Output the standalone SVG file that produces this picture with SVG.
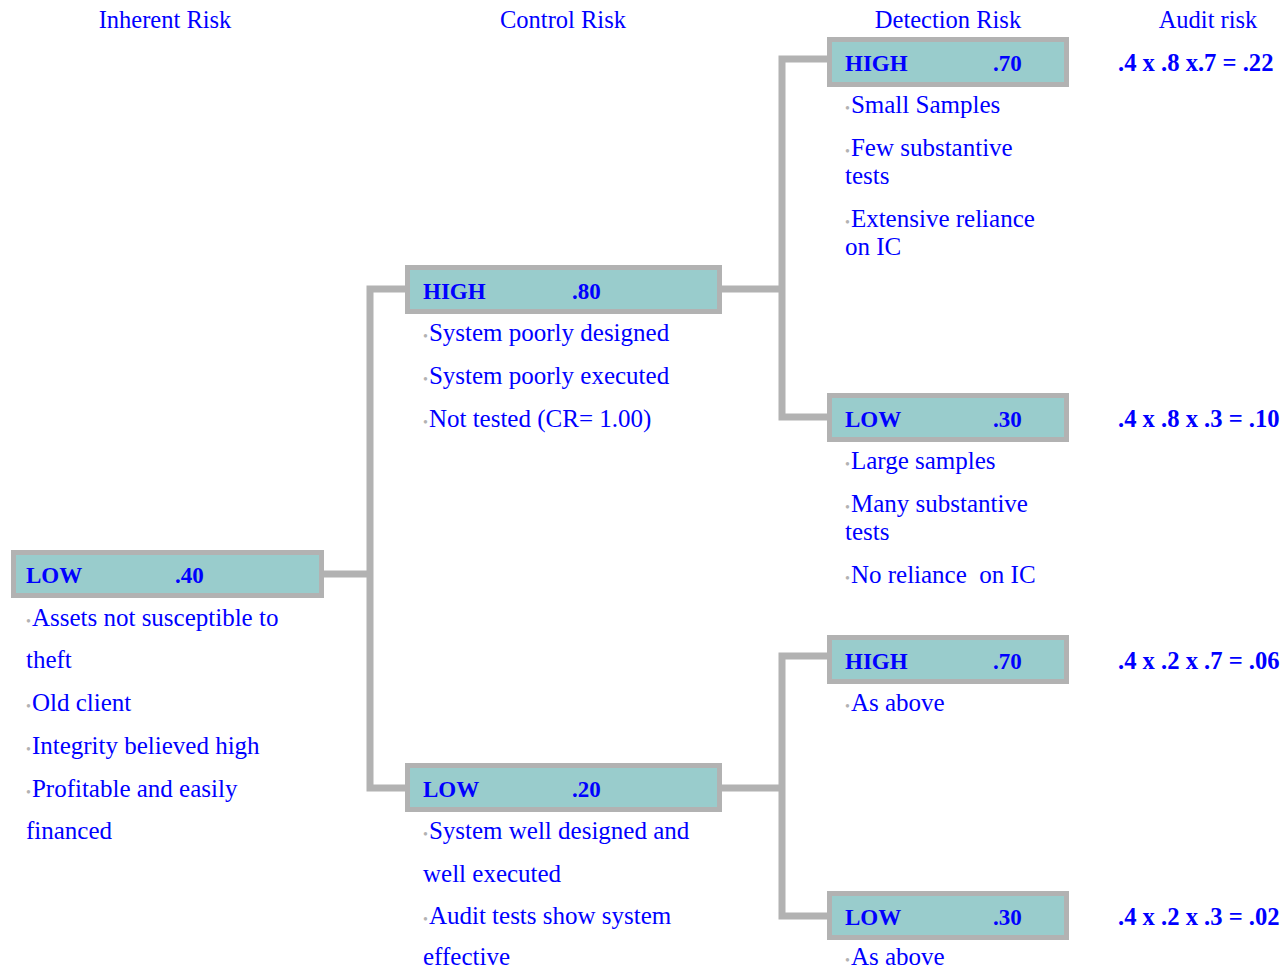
<svg xmlns="http://www.w3.org/2000/svg" width="1284" height="969" viewBox="0 0 1284 969">
<style>
.hd{font-family:"Liberation Serif","Times New Roman",serif;font-size:24.5px;fill:#0000FF;text-anchor:middle}
.bx{fill:#99CCCC;stroke:#B2B2B2;stroke-width:5}
.lb{font-family:"Liberation Serif","Times New Roman",serif;font-size:23px;font-weight:bold;fill:#0000FF}
.tx{font-family:"Liberation Serif","Times New Roman",serif;font-size:25px;fill:#0000FF}
.bu{fill:#B2B2B2;font-size:14px}
.ar{font-family:"Liberation Serif","Times New Roman",serif;font-size:24.6px;font-weight:bold;fill:#0000FF}
.cn{fill:none;stroke:#B2B2B2;stroke-width:7}
</style>
<rect width="1284" height="969" fill="#FFFFFF"/>
<g id="headers">
<text class="hd" x="165" y="28">Inherent Risk</text>
<text class="hd" x="563" y="28">Control Risk</text>
<text class="hd" x="948" y="28">Detection Risk</text>
<text class="hd" x="1208" y="28">Audit risk</text>
</g>
<g id="connectors">
<path class="cn" d="M324 574 H370 M405 289 H370 V788 H405"/>
<path class="cn" d="M722 289 H782 M827 59 H782 V417 H827"/>
<path class="cn" d="M722 788 H782 M827 656 H782 V916 H827"/>
</g>
<g id="ir-low">
<rect class="bx" x="13.5" y="552.5" width="308" height="43"/>
<text class="lb" x="26" y="583">LOW</text>
<text class="lb" x="175" y="583">.40</text>
<text class="tx" x="26" y="626"><tspan class="bu">•</tspan><tspan dx="1">Assets not susceptible to</tspan></text>
<text class="tx" x="26" y="668">theft</text>
<text class="tx" x="26" y="711"><tspan class="bu">•</tspan><tspan dx="1">Old client</tspan></text>
<text class="tx" x="26" y="754"><tspan class="bu">•</tspan><tspan dx="1">Integrity believed high</tspan></text>
<text class="tx" x="26" y="797"><tspan class="bu">•</tspan><tspan dx="1">Profitable and easily</tspan></text>
<text class="tx" x="26" y="839">financed</text>
</g>
<g id="cr-high">
<rect class="bx" x="407.5" y="267.5" width="312" height="44"/>
<text class="lb" x="423" y="299">HIGH</text>
<text class="lb" x="572" y="299">.80</text>
<text class="tx" x="423" y="341"><tspan class="bu">•</tspan><tspan dx="1">System poorly designed</tspan></text>
<text class="tx" x="423" y="384"><tspan class="bu">•</tspan><tspan dx="1">System poorly executed</tspan></text>
<text class="tx" x="423" y="427"><tspan class="bu">•</tspan><tspan dx="1">Not tested (CR= 1.00)</tspan></text>
</g>
<g id="cr-low">
<rect class="bx" x="407.5" y="765.5" width="312" height="44"/>
<text class="lb" x="423" y="797">LOW</text>
<text class="lb" x="572" y="797">.20</text>
<text class="tx" x="423" y="839"><tspan class="bu">•</tspan><tspan dx="1">System well designed and</tspan></text>
<text class="tx" x="423" y="882">well executed</text>
<text class="tx" x="423" y="924"><tspan class="bu">•</tspan><tspan dx="1">Audit tests show system</tspan></text>
<text class="tx" x="423" y="965">effective</text>
</g>
<g id="dr-high-1">
<rect class="bx" x="829.5" y="39.5" width="237" height="45"/>
<text class="lb" x="845" y="71">HIGH</text>
<text class="lb" x="993" y="71">.70</text>
<text class="tx" x="845" y="113"><tspan class="bu">•</tspan><tspan dx="1">Small Samples</tspan></text>
<text class="tx" x="845" y="156"><tspan class="bu">•</tspan><tspan dx="1">Few substantive</tspan></text>
<text class="tx" x="845" y="184">tests</text>
<text class="tx" x="845" y="227"><tspan class="bu">•</tspan><tspan dx="1">Extensive reliance</tspan></text>
<text class="tx" x="845" y="255">on IC</text>
</g>
<g id="dr-low-1">
<rect class="bx" x="829.5" y="395.5" width="237" height="44"/>
<text class="lb" x="845" y="427">LOW</text>
<text class="lb" x="993" y="427">.30</text>
<text class="tx" x="845" y="469"><tspan class="bu">•</tspan><tspan dx="1">Large samples</tspan></text>
<text class="tx" x="845" y="512"><tspan class="bu">•</tspan><tspan dx="1">Many substantive</tspan></text>
<text class="tx" x="845" y="540">tests</text>
<text class="tx" x="845" y="583" xml:space="preserve"><tspan class="bu">•</tspan><tspan dx="1">No reliance  on IC</tspan></text>
</g>
<g id="dr-high-2">
<rect class="bx" x="829.5" y="637.5" width="237" height="44"/>
<text class="lb" x="845" y="669">HIGH</text>
<text class="lb" x="993" y="669">.70</text>
<text class="tx" x="845" y="711"><tspan class="bu">•</tspan><tspan dx="1">As above</tspan></text>
</g>
<g id="dr-low-2">
<rect class="bx" x="829.5" y="893.5" width="237" height="44"/>
<text class="lb" x="845" y="925">LOW</text>
<text class="lb" x="993" y="925">.30</text>
<text class="tx" x="845" y="965"><tspan class="bu">•</tspan><tspan dx="1">As above</tspan></text>
</g>
<g id="audit">
<text class="ar" x="1118" y="71">.4 x .8 x.7 = .22</text>
<text class="ar" x="1118" y="427">.4 x .8 x .3 = .10</text>
<text class="ar" x="1118" y="669">.4 x .2 x .7 = .06</text>
<text class="ar" x="1118" y="925">.4 x .2 x .3 = .02</text>
</g>
</svg>
